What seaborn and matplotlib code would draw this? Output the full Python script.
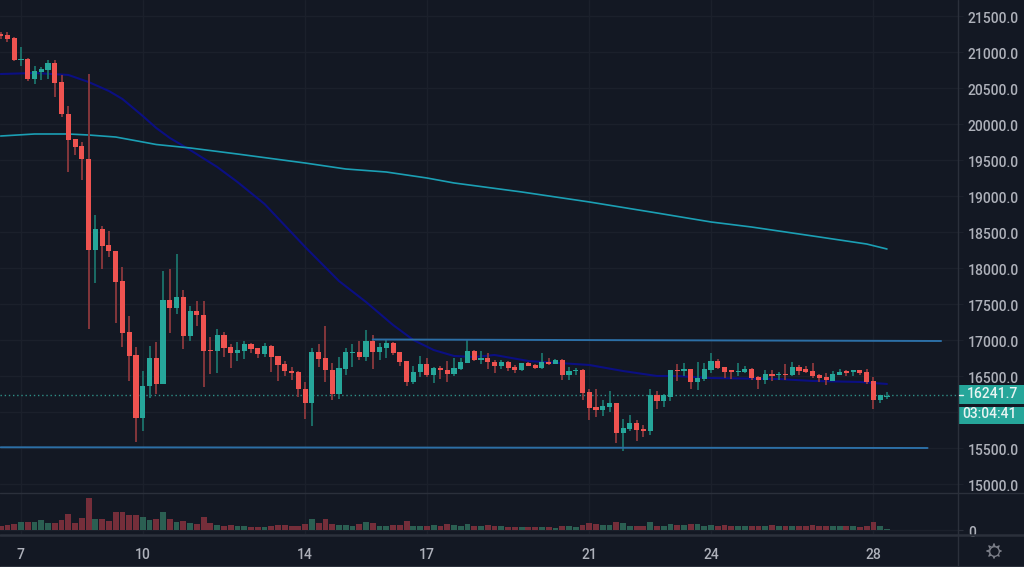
import matplotlib
matplotlib.use("Agg")
import matplotlib.pyplot as plt
from matplotlib.patches import Rectangle
from matplotlib.transforms import ScaledTranslation
import numpy as np
import pandas as pd
import seaborn as sns

BG = "#131823"
GRID = "#1b202b"
EDGE = "#2b303b"
TEXT = "#aeb1ba"
RED = "#ef5350"
GREEN = "#26a69a"

# 4h candles (readings sit one pixel = 14 points high)
READ_BIAS = 14

opens = [21264,21250,21208,20903,20917,20639,20736,20764,20861,20597,20153,19806,19708,19528,18264,18556,18333,18250,17833,17125,
         16806,15931,16375,16764,16403,17569,17458,17611,17069,17417,17361,16875,16861,17083,16917,16833,16861,16958,16903,16819,
         16931,16792,16681,16583,16569,16333,16139,16847,16764,16597,16264,16611,16833,16847,16778,17000,16847,16903,16972,16847,
         16722,16431,16569,16681,16528,16625,16597,16542,16611,16694,16861,16736,16764,16708,16653,16708,16639,16597,16694,16667,
         16625,16708,16681,16736,16528,16583,16597,16292,16083,16042,16083,16139,15722,15778,15861,15778,15750,16250,16167,16222,
         16597,16583,16611,16431,16472,16597,16722,16639,16597,16569,16569,16611,16500,16458,16542,16528,16542,16528,16639,16611,
         16583,16528,16500,16444,16528,16583,16569,16597,16569,16444,16181,16222]
highs = [21292,21292,21222,21083,20931,20819,20806,20903,20903,20694,20264,19806,19764,20708,18750,18597,18528,18250,18028,17347,
         16917,16583,16931,16986,17972,18000,18208,17708,17486,17556,17556,17056,17167,17125,16958,16986,17000,16972,16903,16972,
         16944,16792,16722,16639,16583,16431,16903,16958,17208,16694,16778,16903,16958,17000,17153,17083,16972,17028,16986,16847,
         16722,16653,16792,16764,16639,16653,16722,16764,16764,17028,16875,16861,16833,16736,16736,16722,16667,16694,16708,16681,
         16833,16764,16750,16750,16639,16625,16611,16333,16333,16181,16306,16139,15917,15972,15903,15833,16333,16306,16264,16597,
         16681,16694,16611,16708,16694,16833,16750,16639,16597,16694,16653,16625,16514,16597,16597,16569,16681,16708,16667,16653,
         16694,16542,16556,16583,16611,16597,16597,16597,16611,16500,16250,16292]
lows = [21194,21153,20889,20819,20611,20569,20625,20639,20389,20111,19347,19583,19236,17167,17806,18000,18167,17250,16917,16444,
        15597,15750,16208,16264,16403,17111,17375,16889,17000,17208,16361,16542,16556,16778,16625,16722,16750,16833,16764,16778,
        16569,16444,16514,16458,16222,15917,15819,16639,16431,16181,16194,16528,16639,16736,16722,16611,16736,16764,16806,16653,
        16375,16403,16500,16500,16417,16472,16431,16514,16597,16694,16722,16681,16611,16556,16611,16583,16556,16583,16653,16611,
        16611,16667,16681,16458,16458,16528,16181,15903,15944,15958,16014,15583,15472,15750,15611,15667,15694,16056,16083,16167,
        16444,16514,16333,16319,16444,16556,16611,16486,16472,16514,16556,16458,16333,16403,16444,16458,16458,16514,16528,16556,
        16486,16431,16389,16444,16528,16514,16514,16528,16403,16056,16139,16194]
closes = [21236,21194,20903,20917,20639,20750,20778,20861,20583,20153,19792,19694,19528,18264,18556,18319,18250,17819,17111,16792,
          15931,16375,16764,16403,17569,17458,17611,17069,17417,17361,16861,16861,17083,16903,16833,16875,16958,16889,16819,16931,
          16778,16667,16583,16556,16333,16139,16847,16750,16597,16264,16625,16847,16847,16778,17000,16847,16917,16972,16833,16708,
          16431,16569,16681,16528,16625,16597,16542,16625,16708,16861,16736,16764,16708,16653,16708,16625,16597,16694,16653,16625,
          16708,16681,16736,16528,16583,16597,16278,16069,16042,16097,16139,15722,15792,15861,15764,15750,16250,16167,16250,16597,
          16583,16611,16431,16486,16611,16722,16625,16569,16569,16583,16611,16486,16458,16542,16514,16542,16528,16639,16583,16569,
          16514,16486,16458,16542,16569,16556,16597,16556,16431,16181,16250,16242]
volumes = [12,14,18,24,24,24,29,21,21,29,47,21,35,96,32,32,27,52,52,45,
           43,39,29,32,52,32,23,26,21,18,37,21,15,12,15,12,10,7,7,7,
           12,15,13,10,12,17,32,21,32,18,15,15,12,18,23,21,12,12,15,15,
           26,12,10,12,15,12,18,15,10,18,10,12,15,12,10,7,7,7,7,7,
           7,7,4,12,10,7,15,21,18,15,15,23,21,12,12,12,23,12,10,18,
           15,15,18,18,12,15,12,15,12,12,10,12,12,12,15,10,10,12,12,10,
           15,10,10,12,12,10,10,7,10,23,10,3]

# moving averages, read at these candles
slow_idx = [0,5,10,13,17,21,23,28,35,45,51,57,63,67,77,87,97,105,111,121,128,131]
slow_ma = [19833,19861,19861,19847,19819,19750,19715,19667,19583,19458,19375,19333,19250,19181,19056,18917,18764,18639,18569,18431,18333,18264]
fast_idx = [0,5,10,13,16,18,21,23,25,28,32,35,39,45,50,54,58,61,64,67,70,73,78,87,92,97,100,105,115,120,127,131]
fast_ma = [20694,20708,20681,20583,20458,20347,20111,19944,19806,19639,19403,19194,18889,18292,17819,17528,17208,17000,16861,16778,
           16764,16792,16708,16653,16569,16500,16500,16472,16458,16431,16417,16389]

upper_idx = [55, 139]
upper_level = [17007, 16986]
lower_idx = [0, 137]
lower_level = [15510, 15500]

last_price = 16241.7
countdown = "03:04:41"

price_ticks = list(range(15000, 22000, 500))
day_idx = [3, 21, 45, 63, 87, 105, 129]
day_labels = ["7", "10", "14", "17", "21", "24", "28"]

sns.set_theme(style="dark", rc={"axes.facecolor": BG, "figure.facecolor": BG})
plt.rcParams["font.family"] = ["Roboto", "DejaVu Sans"]

W, H = 1024, 567
fig = plt.figure(figsize=(W / 100, H / 100), dpi=100)
ax = fig.add_axes([0, (H - 493) / H, 958 / W, 493 / H])
vol_ax = fig.add_axes([0, (H - 534) / H, 958 / W, 41 / H], sharex=ax)

df = pd.DataFrame({"i": range(len(opens)), "o": opens, "h": highs, "l": lows, "c": closes, "v": volumes})
df[["o", "h", "l", "c"]] -= READ_BIAS
df["up"] = df["c"] >= df["o"]

# moving averages sit behind the candles
sns.lineplot(x=fast_idx, y=fast_ma, color="#0b0f82", lw=1.5, ax=ax, zorder=2)
sns.lineplot(x=slow_idx, y=slow_ma, color="#1b9fb4", lw=1.2, ax=ax, zorder=2)

for up, part in df.groupby("up"):
    body = GREEN if up else RED
    wick = "#1b6d66" if up else "#84363b"
    ax.vlines(part["i"], part["l"], part["h"], color=wick, lw=1.4, zorder=3)
    ax.bar(part["i"], (part["o"] - part["c"]).abs(), bottom=part[["o", "c"]].min(axis=1),
           width=0.76, color=body, lw=0, zorder=4)

sns.lineplot(x=upper_idx, y=upper_level, color="#2c6fa6", lw=1.4, ax=ax, zorder=5)
sns.lineplot(x=lower_idx, y=lower_level, color="#2c6fa6", lw=1.4, ax=ax, zorder=5)
ax.axhline(last_price, color="#2f8f87", lw=1, ls=(0, (1, 2)), zorder=1)

sns.barplot(data=df, x="i", y="v", hue="up", palette={True: "#2b5f52", False: "#752e3a"},
            native_scale=True, dodge=False, width=0.86, saturation=1, legend=False,
            edgecolor="none", linewidth=0, ax=vol_ax, zorder=3)

ax.set_xlim(-0.1, 141.5)
ax.set_ylim(14875, 21722)
vol_ax.set_ylim(-13, 110)

ax.set_yticks(price_ticks)
# the 16000.0 label is hidden behind the countdown tag
ax.set_yticklabels(["" if t == 16000 else f"{t:.1f}" for t in price_ticks])
ax.yaxis.tick_right()
ax.tick_params(axis="y", length=3.6, width=0.8, color=GRID, pad=3.6, labelsize=10, labelcolor=TEXT)
ax.tick_params(axis="x", bottom=False, labelbottom=False)
ax.set_xticks(day_idx)
ax.grid(True, color=GRID, lw=1)
ax.set_axisbelow(True)
ax.set_xlabel("")
ax.set_ylabel("")

vol_ax.set_xticks(day_idx)
vol_ax.set_xticklabels(day_labels)
vol_ax.set_yticks([0])
vol_ax.set_yticklabels(["0"])
vol_ax.yaxis.tick_right()
vol_ax.tick_params(axis="y", length=3.6, width=0.8, color=EDGE, pad=3.6, labelsize=10, labelcolor=TEXT)
vol_ax.tick_params(axis="x", length=2.5, width=0.8, color=GRID, pad=7.5, labelsize=10, labelcolor=TEXT)
vol_ax.grid(True, color=GRID, lw=1)
vol_ax.set_axisbelow(True)
vol_ax.set_xlabel("")
vol_ax.set_ylabel("")
for a in (ax, vol_ax):
    sns.despine(ax=a, left=True, bottom=True, right=True, top=True)

# price labels sit a little under their grid lines
nudge = ScaledTranslation(0, -1.6 / 100, fig.dpi_scale_trans)
for label in ax.get_yticklabels() + vol_ax.get_yticklabels():
    label.set_transform(label.get_transform() + nudge)
    label.set_fontweight("medium")
for label in vol_ax.get_xticklabels():
    label.set_fontweight("medium")

# chart frame and price tags, in pixels
over = fig.add_axes([0, 0, 1, 1], zorder=10)
over.set_xlim(0, W)
over.set_ylim(H, 0)
over.axis("off")
over.patch.set_alpha(0)
over.plot([0, W], [493, 493], color=EDGE, lw=1)
over.plot([0, W], [534.5, 534.5], color=EDGE, lw=1.8)
over.plot([0, W], [565.5, 565.5], color=EDGE, lw=0.8)
over.plot([958, 958], [0, H], color=EDGE, lw=1)
over.add_patch(Rectangle((959, 385), 65, 19, color=GREEN, lw=0))
over.add_patch(Rectangle((959, 407), 65, 17, color=GREEN, lw=0))
over.plot([959, 963], [395, 395], color="#e6f3f1", lw=1)
over.text(992, 394.5, f"{last_price:.1f}", color="#e8f4f2", fontsize=10, ha="center", va="center", fontweight="medium")
over.text(989.5, 414.5, countdown, color="#e8f4f2", fontsize=10, ha="center", va="center", fontweight="medium")
over.scatter([994], [551], marker=(8, 1, 0), s=110, facecolor="none", edgecolor="#7d808a", lw=0.9)
over.scatter([994], [551], marker="o", s=48, facecolor=BG, edgecolor="#7d808a", lw=0.9)

fig.savefig("out.png", dpi=100, facecolor=BG)
